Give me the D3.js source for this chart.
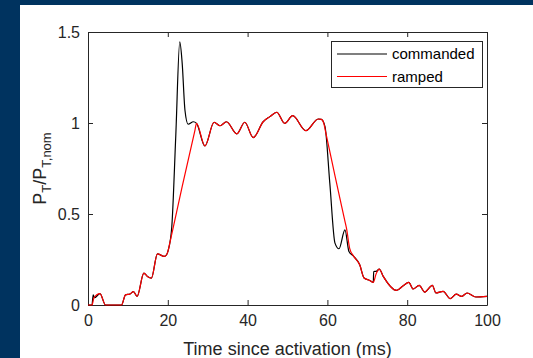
<!DOCTYPE html>
<html>
<head>
<meta charset="utf-8">
<script src="https://cdn.jsdelivr.net/npm/d3@7"></script>
<style>
  html, body { margin: 0; padding: 0; background: #00335f; }
  svg { display: block; }
</style>
</head>
<body>
<svg id="chart"></svg>
<script>
// commanded thrust (time in ms, normalised thrust)
const cmdTime = [0, 1.0, 1.3, 1.6, 3.0, 4.4, 8.4, 9.4, 10.5, 11.4, 12.3, 14.0, 14.9, 15.9, 17.4, 19.1, 19.7, 20.1,
  21.0, 22.0, 23.0, 23.6, 24.3, 25.1, 26.4, 27.2, 29.3, 31.6, 33.1, 34.7, 37.3, 39.3, 41.4, 43.9, 45.6,
  47.3, 49.3, 51.3, 54.6, 57.7, 58.5, 59.4, 60.6, 61.9, 62.9, 64.4, 65.4, 66.6, 68.1, 69.2, 70.6, 71.5,
  71.6, 72.2, 73.0, 74.0, 77.3, 79.0, 80.4, 81.5, 83.0, 84.4, 86.3, 87.2, 89.0, 90.8, 92.3, 93.6, 95.0, 97.2, 100];
const cmdValue = [0, 0, 0.056, 0.04, 0.062, 0, 0, 0.056, 0.06, 0.073, 0.047, 0.175, 0.157, 0.148, 0.281, 0.267, 0.276, 0.30,
  0.43, 0.93, 1.446, 1.33, 1.07, 0.993, 1.007, 0.998, 0.874, 1.004, 0.985, 1.007, 0.94, 1.004, 0.92, 1.007, 1.035,
  1.059, 0.998, 1.04, 0.958, 1.022, 1.02, 0.98, 0.67, 0.34, 0.309, 0.413, 0.294, 0.267, 0.221, 0.148, 0.135, 0.124,
  0.184, 0.185, 0.197, 0.157, 0.08, 0.106, 0.124, 0.088, 0.108, 0.071, 0.108, 0.066, 0.075, 0.035, 0.06, 0.047, 0.066, 0.044, 0.047];

// ramped thrust (straight ramps at the rising and falling edges)
const rampTime = [0, 1.0, 1.5, 3.0, 4.4, 8.4, 9.4, 10.5, 11.4, 12.3, 14.0, 14.9, 15.9, 17.4, 19.1, 19.7, 20.1,
  20.5, 23.6, 26.8, 27.2, 29.3, 31.6, 33.1, 34.7, 37.3, 39.3, 41.4, 43.9, 45.6, 47.3, 49.3, 51.3, 54.6, 57.7, 58.5, 59.1,
  59.5, 62.0, 64.4, 64.8, 65.6, 66.6, 68.1, 69.2, 70.6, 71.5, 72.2, 73.0, 74.0, 77.3, 79.0, 80.4, 81.5, 83.0, 84.4, 86.3, 87.2,
  89.0, 90.8, 92.3, 93.6, 95.0, 97.2, 100];
const rampValue = [0, 0, 0.04, 0.062, 0, 0, 0.056, 0.06, 0.073, 0.047, 0.175, 0.157, 0.148, 0.281, 0.267, 0.276, 0.30,
  0.34, 0.65, 0.96, 0.998, 0.874, 1.004, 0.985, 1.007, 0.94, 1.004, 0.92, 1.007, 1.035, 1.059, 0.998, 1.04, 0.958, 1.022, 1.02, 0.998,
  0.957, 0.70, 0.46, 0.42, 0.31, 0.267, 0.221, 0.148, 0.135, 0.124, 0.17, 0.197, 0.157, 0.08, 0.106, 0.124, 0.088, 0.108, 0.071, 0.108, 0.066,
  0.075, 0.035, 0.06, 0.047, 0.066, 0.044, 0.047];

const xTicks = [0, 20, 40, 60, 80, 100];
const yTicks = [0, 0.5, 1, 1.5];
const seriesNames = ["commanded", "ramped"];
const seriesColors = ["#000000", "#ff0000"];

const W = 533, H = 358;
const svg = d3.select("#chart").attr("width", W).attr("height", H);

// white panel on the navy slide
svg.append("rect").attr("x", 20).attr("y", 5).attr("width", W - 20).attr("height", H - 5).attr("fill", "#ffffff");

const pLeft = 88, pRight = 487, pTop = 32, pBottom = 305;
const x = d3.scaleLinear().domain([0, 100]).range([pLeft, pRight]);
const y = d3.scaleLinear().domain([0, 1.5]).range([pBottom, pTop]);

const txt = "#262626";
const font = "'Liberation Sans', Arial, Helvetica, sans-serif";

// axes (ticks inside, box on)
const xAxis = svg.append("g").attr("transform", `translate(0,${pBottom})`)
  .call(d3.axisBottom(x).tickValues(xTicks).tickSizeInner(-5).tickSizeOuter(0).tickPadding(10).tickFormat(d3.format("d")));
const xAxisTop = svg.append("g").attr("transform", `translate(0,${pTop})`)
  .call(d3.axisTop(x).tickValues(xTicks).tickSizeInner(-5).tickSizeOuter(0).tickFormat(""));
const yAxis = svg.append("g").attr("transform", `translate(${pLeft},0)`)
  .call(d3.axisLeft(y).tickValues(yTicks).tickSizeInner(-5).tickSizeOuter(0).tickPadding(8).tickFormat(d => String(d)));
const yAxisRight = svg.append("g").attr("transform", `translate(${pRight},0)`)
  .call(d3.axisRight(y).tickValues(yTicks).tickSizeInner(-5).tickSizeOuter(0).tickFormat(""));

[xAxis, xAxisTop, yAxis, yAxisRight].forEach(a => {
  a.select(".domain").attr("stroke", txt).attr("stroke-width", 1);
  a.selectAll(".tick line").attr("stroke", txt);
  a.selectAll("text").attr("fill", txt).style("font-family", font).style("font-size", "16px");
});

// lines
const line = d3.line().x(d => x(d[0])).y(d => y(d[1])).curve(d3.curveMonotoneX);
const cmd = cmdTime.map((t, i) => [t, cmdValue[i]]);
const ramp = rampTime.map((t, i) => [t, rampValue[i]]);

svg.append("path").datum(cmd).attr("d", line)
  .attr("fill", "none").attr("stroke", seriesColors[0]).attr("stroke-width", 1.2);
svg.append("path").datum(ramp).attr("d", line)
  .attr("fill", "none").attr("stroke", seriesColors[1]).attr("stroke-width", 1.2);

// axis labels
svg.append("text").attr("x", (pLeft + pRight) / 2).attr("y", 355).attr("text-anchor", "middle")
  .attr("fill", txt).style("font-family", font).style("font-size", "18px")
  .text("Time since activation (ms)");

const yl = svg.append("text").attr("transform", `translate(46,${(pTop + pBottom) / 2}) rotate(-90)`)
  .attr("text-anchor", "middle").attr("fill", txt).style("font-family", font).style("font-size", "18px");
yl.append("tspan").text("P");
yl.append("tspan").attr("dy", 5).style("font-size", "13px").text("T");
yl.append("tspan").attr("dy", -5).text("/P");
yl.append("tspan").attr("dy", 5).style("font-size", "13px").text("T,nom");

// legend
const lg = svg.append("g");
lg.append("rect").attr("x", 331.5).attr("y", 41.5).attr("width", 151).attr("height", 46)
  .attr("fill", "#ffffff").attr("stroke", txt).attr("stroke-width", 1);
seriesNames.forEach((name, i) => {
  const ly = 54 + i * 22.5;
  lg.append("line").attr("x1", 337).attr("x2", 387).attr("y1", ly).attr("y2", ly)
    .attr("stroke", seriesColors[i]).attr("stroke-width", 1.2);
  lg.append("text").attr("x", 392).attr("y", ly + 5).attr("fill", "#000")
    .style("font-family", font).style("font-size", "15px").text(name);
});
</script>
</body>
</html>
